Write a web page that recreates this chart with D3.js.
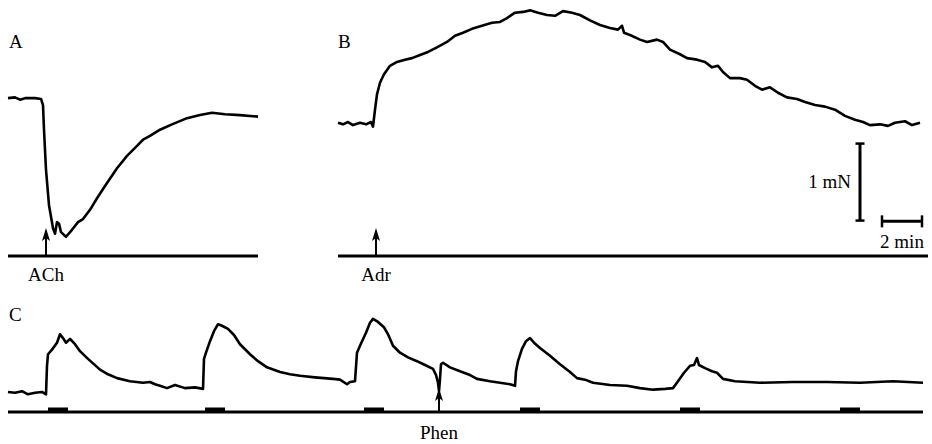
<!DOCTYPE html>
<html lang="en">
<head>
    <meta charset="UTF-8">
    <title>Tension responses: ACh, Adr, Phen</title>
    <script src="https://d3js.org/d3.v7.min.js"></script>
    <style>
        body { margin: 0; background: #fff; }
        text { font-family: "Liberation Serif", "DejaVu Serif", serif; fill: #000; }
        .trace { fill: none; stroke: #000; stroke-width: 2.6; stroke-linejoin: round; }
        .marker { stroke: #000; stroke-width: 3.2; }
    </style>
</head>
<body>
<svg width="932" height="444"></svg>
<script>
// time in minutes, force in mN (above the marker line)
const aTime  = [0, 0.35, 0.6, 0.85, 1.35, 1.65, 1.75, 1.8, 1.9, 2.05, 2.25, 2.35, 2.45, 2.55, 2.65, 2.9, 3.2, 3.5, 3.75, 4.1, 4.45, 4.85, 5.45, 5.95, 6.45, 6.75, 7.1, 7.6, 8.2, 8.95, 9.6, 10.2, 10.85, 11.6, 12.5];
const aForce = [2.05, 2.06, 2.03, 2.05, 2.05, 2.04, 1.96, 1.64, 1.12, 0.66, 0.36, 0.29, 0.44, 0.42, 0.31, 0.25, 0.34, 0.44, 0.48, 0.6, 0.75, 0.91, 1.14, 1.3, 1.43, 1.51, 1.56, 1.64, 1.71, 1.79, 1.83, 1.86, 1.84, 1.83, 1.81];

const bTime  = [0, 0.25, 0.5, 0.75, 1.1, 1.4, 1.65, 1.75, 1.85, 1.95, 2.1, 2.3, 2.6, 2.95, 3.35, 3.7, 4.1, 4.5, 4.95, 5.45, 5.85, 6.25, 6.7, 7.2, 7.7, 8.1, 8.45, 8.85, 9.25, 9.6, 10.0, 10.45, 10.85, 11.25, 11.7, 12.1, 12.6, 13.1, 13.6, 14.0, 14.2, 14.3, 14.6, 15.1, 15.45, 15.95, 16.25, 16.6, 17.1, 17.45, 17.95, 18.35, 18.7, 19.0, 19.25, 19.6, 20.1, 20.45, 20.85, 21.2, 21.6, 22.0, 22.45, 22.95, 23.35, 23.85, 24.35, 24.85, 25.35, 25.85, 26.25, 26.6, 27.1, 27.5, 27.85, 28.35, 28.7, 29.1];
const bForce = [1.73, 1.71, 1.74, 1.70, 1.73, 1.71, 1.74, 1.68, 1.90, 2.10, 2.25, 2.36, 2.47, 2.52, 2.55, 2.57, 2.61, 2.65, 2.71, 2.78, 2.86, 2.90, 2.95, 2.99, 3.03, 3.04, 3.09, 3.16, 3.17, 3.19, 3.16, 3.13, 3.12, 3.18, 3.16, 3.13, 3.06, 3.0, 2.96, 2.94, 2.99, 2.90, 2.87, 2.81, 2.78, 2.81, 2.78, 2.68, 2.62, 2.57, 2.55, 2.52, 2.45, 2.47, 2.39, 2.31, 2.31, 2.29, 2.21, 2.16, 2.19, 2.12, 2.06, 2.04, 2.0, 1.96, 1.94, 1.90, 1.82, 1.77, 1.74, 1.70, 1.71, 1.69, 1.73, 1.75, 1.70, 1.73];

const cTime  = [0, 0.35, 0.7, 1.0, 1.35, 1.7, 1.9,
                1.95, 2.0, 2.2, 2.45, 2.6, 2.75, 2.9, 3.1, 3.35, 3.6, 4.0, 4.6, 5.0, 5.45, 6.1, 6.75, 7.1, 7.35, 7.6, 7.95, 8.35, 8.85, 9.35, 9.75,
                9.8, 9.9, 10.1, 10.3, 10.5, 10.7, 11.0, 11.3, 11.6, 12.1, 12.5, 12.95, 13.6, 14.1, 14.6, 15.35, 16.25, 16.6, 16.95, 17.1, 17.35,
                17.45, 17.6, 17.9, 18.1, 18.25, 18.5, 18.8, 19.0, 19.25, 19.6, 20.0, 20.45, 20.85, 21.25, 21.4, 21.5, 21.55, 21.6, 21.65, 21.75, 22.1, 22.6, 23.1, 23.45, 24.1, 24.6, 25.1, 25.35,
                25.4, 25.5, 25.7, 25.9, 26.1, 26.3, 26.6, 27.1, 27.6, 28.1, 28.45, 28.85, 29.25, 30.1, 30.95, 31.6, 32.25, 32.85, 33.25,
                33.5, 33.8, 34.1, 34.3, 34.45, 34.55, 34.85, 35.2, 35.45, 35.75, 36.35, 37.6, 39.25, 40.95, 42.6, 44.25, 45.75];
const cForce = [0.26, 0.25, 0.27, 0.23, 0.25, 0.26, 0.23,
                0.60, 0.75, 0.81, 0.90, 1.01, 0.96, 0.90, 0.95, 0.88, 0.79, 0.69, 0.55, 0.49, 0.44, 0.40, 0.38, 0.39, 0.36, 0.34, 0.31, 0.35, 0.31, 0.32, 0.30,
                0.69, 0.77, 0.92, 1.05, 1.14, 1.12, 1.08, 1.0, 0.88, 0.75, 0.66, 0.58, 0.52, 0.49, 0.47, 0.45, 0.43, 0.42, 0.36, 0.39, 0.40,
                0.77, 0.86, 1.03, 1.16, 1.21, 1.17, 1.10, 1.01, 0.86, 0.77, 0.71, 0.66, 0.61, 0.56, 0.48, 0.38, 0.27, 0.43, 0.62, 0.64, 0.58, 0.53, 0.48, 0.43, 0.40, 0.38, 0.36, 0.34,
                0.53, 0.66, 0.82, 0.92, 0.96, 0.90, 0.83, 0.73, 0.62, 0.52, 0.44, 0.42, 0.38, 0.35, 0.34, 0.31, 0.29, 0.30, 0.31,
                0.40, 0.51, 0.60, 0.61, 0.70, 0.61, 0.57, 0.53, 0.51, 0.43, 0.40, 0.38, 0.39, 0.39, 0.38, 0.40, 0.38];

// stimulation periods on the marker line of C (min)
const cStimStart = [2.0, 9.85, 17.8, 25.6, 33.6, 41.6];
const cStimEnd   = [3.0, 10.85, 18.8, 26.6, 34.6, 42.6];

// drug additions
const drugPanels = ['A', 'B', 'C'];
const drugNames  = ['ACh', 'Adr', 'Phen'];
const drugTimes  = [1.9, 1.9, 21.55];

const panelLength = [12.5, 29.5, 45.75];   // minutes shown in each panel

const svg = d3.select('svg');

const pxPerMin = 20, pxPerMN = 77;
const x = {
    A: d3.scaleLinear().domain([0, panelLength[0]]).range([8, 8 + panelLength[0] * pxPerMin]),
    B: d3.scaleLinear().domain([0, panelLength[1]]).range([338, 338 + panelLength[1] * pxPerMin]),
    C: d3.scaleLinear().domain([0, panelLength[2]]).range([8, 8 + panelLength[2] * pxPerMin])
};
const y = {
    A: d3.scaleLinear().domain([0, 1]).range([256, 256 - pxPerMN]),
    B: d3.scaleLinear().domain([0, 1]).range([256, 256 - pxPerMN]),
    C: d3.scaleLinear().domain([0, 1]).range([412, 412 - pxPerMN])
};

const traces = {
    A: d3.zip(aTime, aForce),
    B: d3.zip(bTime, bForce),
    C: d3.zip(cTime, cForce)
};

// panel letters
const letterPos = { A: [9, 48], B: [338, 48], C: [9, 321] };
drugPanels.forEach(p => {
    svg.append('text')
        .attr('x', letterPos[p][0]).attr('y', letterPos[p][1])
        .style('font-size', '19px')
        .text(p);
});

drugPanels.forEach((p, i) => {
    const sx = x[p], sy = y[p];

    // marker line
    svg.append('line')
        .attr('class', 'marker')
        .attr('x1', sx(0)).attr('x2', sx(panelLength[i]))
        .attr('y1', sy(0)).attr('y2', sy(0));

    // trace
    const line = d3.line().x(d => sx(d[0])).y(d => sy(d[1]));
    svg.append('path')
        .datum(traces[p])
        .attr('class', 'trace')
        .attr('d', line);

    // arrow for drug
    const ax = sx(drugTimes[i]);
    const top = sy(0) - (p === 'C' ? 24 : 28);
    svg.append('line')
        .attr('x1', ax).attr('x2', ax)
        .attr('y1', sy(0)).attr('y2', top + 6)
        .attr('stroke', '#000').attr('stroke-width', 2);
    svg.append('path')
        .attr('d', `M${ax},${top} L${ax - 4},${top + 13} L${ax},${top + 10} L${ax + 4},${top + 13} Z`)
        .attr('fill', '#000');

    svg.append('text')
        .attr('x', ax).attr('y', sy(0) + (p === 'C' ? 27 : 25))
        .attr('text-anchor', 'middle')
        .style('font-size', '19px')
        .text(drugNames[i]);
});

// stimulation bars in C
svg.selectAll('.stim')
    .data(d3.zip(cStimStart, cStimEnd))
    .enter()
    .append('rect')
    .attr('class', 'stim')
    .attr('x', d => x.C(d[0]))
    .attr('width', d => x.C(d[1]) - x.C(d[0]))
    .attr('y', y.C(0) - 4.5)
    .attr('height', 5)
    .attr('fill', '#000');

// scale bars (drawn with panel B scales)
const barT = 26.1, barF0 = 0.46;
svg.append('line')
    .attr('x1', x.B(barT)).attr('x2', x.B(barT))
    .attr('y1', y.B(barF0)).attr('y2', y.B(barF0 + 1))
    .attr('stroke', '#000').attr('stroke-width', 3);
[barF0, barF0 + 1].forEach(f => {
    svg.append('line')
        .attr('x1', x.B(barT) - 4.5).attr('x2', x.B(barT) + 4.5)
        .attr('y1', y.B(f)).attr('y2', y.B(f))
        .attr('stroke', '#000').attr('stroke-width', 2.5);
});
svg.append('text')
    .attr('x', x.B(barT) - 9).attr('y', y.B(barF0 + 0.5) + 6)
    .attr('text-anchor', 'end')
    .style('font-size', '19px')
    .text('1 mN');

const tBar0 = 27.2, fBar = 0.45;
svg.append('line')
    .attr('x1', x.B(tBar0)).attr('x2', x.B(tBar0 + 2))
    .attr('y1', y.B(fBar)).attr('y2', y.B(fBar))
    .attr('stroke', '#000').attr('stroke-width', 3);
[tBar0, tBar0 + 2].forEach(t => {
    svg.append('line')
        .attr('x1', x.B(t)).attr('x2', x.B(t))
        .attr('y1', y.B(fBar) - 6).attr('y2', y.B(fBar) + 6)
        .attr('stroke', '#000').attr('stroke-width', 2.5);
});
svg.append('text')
    .attr('x', x.B(tBar0 + 1)).attr('y', y.B(fBar) + 27)
    .attr('text-anchor', 'middle')
    .style('font-size', '19px')
    .text('2 min');
</script>
</body>
</html>
